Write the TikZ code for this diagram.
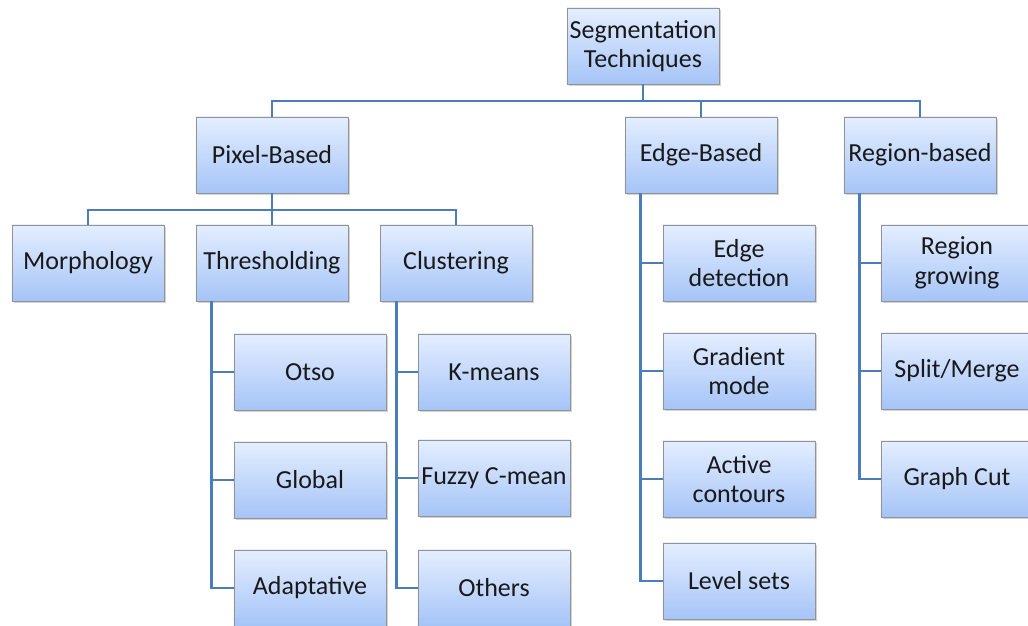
\documentclass[tikz,border=0pt]{standalone}
\usepackage{fontspec}
\setmainfont{Carlito}
\usetikzlibrary{shadows}
\definecolor{boxtop}{HTML}{E4EEFF}
\definecolor{boxbot}{HTML}{A5C4F7}
\definecolor{linkblue}{HTML}{4A7EBB}
\tikzset{
  tbox/.style={draw=gray!85, line width=0.6pt, top color=boxtop, bottom color=boxbot,
    minimum width=3.8cm, minimum height=1.9cm, inner sep=1pt, align=center,
    font=\fontsize{18.5}{21}\selectfont, text=black!90,
    drop shadow={opacity=0.35, shadow xshift=1.5pt, shadow yshift=-1.5pt}},
  link/.style={draw=linkblue, line width=1.8pt}
}

\begin{document}
\begin{tikzpicture}[x=0.025cm, y=-0.025cm]
\useasboundingbox (0,0) rectangle (1028,626);
% top level
\node[tbox] (seg) at (643,46) {Segmentation\\Techniques};
\node[tbox] (pix) at (272,155) {Pixel-Based};
\node[tbox] (edge) at (701,155) {Edge-Based};
\node[tbox] (reg) at (920,155) {Region-based};
% pixel based
\node[tbox] (morph) at (88,263) {Morphology};
\node[tbox] (thr) at (272,263) {Thresholding};
\node[tbox] (clus) at (456,263) {Clustering};
\node[tbox] (otso) at (310,372) {Otso};
\node[tbox] (global) at (310,480) {Global};
\node[tbox] (ada) at (310,588) {Adaptative};
\node[tbox] (kmeans) at (494,372) {K-means};
\node[tbox] (fuzzy) at (494,478) {Fuzzy C-mean};
\node[tbox] (others) at (494,588) {Others};
% edge based
\node[tbox] (edet) at (739,263) {Edge\\detection};
\node[tbox] (grad) at (739,371) {Gradient\\mode};
\node[tbox] (active) at (739,479) {Active\\contours};
\node[tbox] (level) at (739,581) {Level sets};
% region based
\node[tbox] (rgrow) at (957,263) {Region\\growing};
\node[tbox] (split) at (957,371) {Split/Merge};
\node[tbox] (gcut) at (957,479) {Graph Cut};

% buses and spines
\coordinate (topbus) at (0,101);
\coordinate (pixbus) at (0,210);
\coordinate (thrspine) at ([xshift=0.4cm]thr.south west);
\coordinate (clusspine) at ([xshift=0.42cm]clus.south west);
\coordinate (edgespine) at ([xshift=0.4cm]edge.south west);
\coordinate (regspine) at ([xshift=0.4cm]reg.south west);

\draw[link] (seg.south) -- (seg.south |- topbus);
\draw[link] (pix.north) |- (reg.north |- topbus) -- (reg.north);
\draw[link] (edge.north) -- (edge.north |- topbus);

\draw[link] (pix.south) -- (thr.north);
\draw[link] (morph.north) |- (clus.north |- pixbus) -- (clus.north);

\draw[link] (thrspine) |- (ada.west);
\draw[link] (otso.west) -- (otso.west -| thrspine);
\draw[link] (global.west) -- (global.west -| thrspine);

\draw[link] (clusspine) |- (others.west);
\draw[link] (kmeans.west) -- (kmeans.west -| clusspine);
\draw[link] (fuzzy.west) -- (fuzzy.west -| clusspine);

\draw[link] (edgespine) |- (level.west);
\draw[link] (edet.west) -- (edet.west -| edgespine);
\draw[link] (grad.west) -- (grad.west -| edgespine);
\draw[link] (active.west) -- (active.west -| edgespine);

\draw[link] (regspine) |- (gcut.west);
\draw[link] (rgrow.west) -- (rgrow.west -| regspine);
\draw[link] (split.west) -- (split.west -| regspine);
\end{tikzpicture}
\end{document}
